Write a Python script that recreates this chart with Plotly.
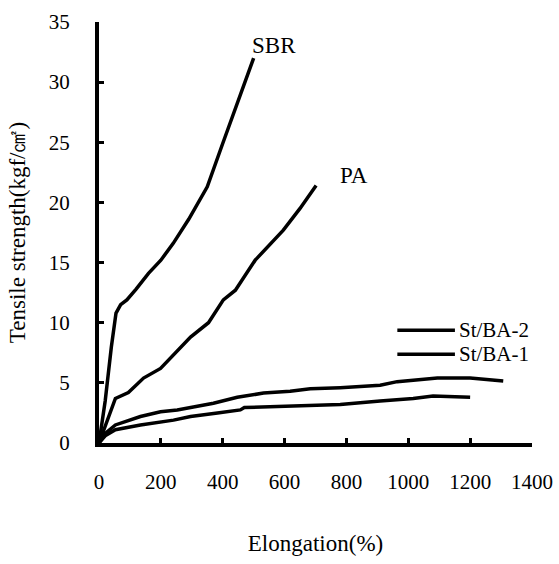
import plotly.graph_objects as go

# Data
sbr_x = [0, 20, 40, 55, 70, 90, 120, 160, 200, 240, 290, 350, 400, 430, 470, 500]
sbr_y = [0, 3.5, 8.0, 10.8, 11.5, 11.9, 12.8, 14.1, 15.2, 16.6, 18.6, 21.3, 24.9, 27.0, 29.8, 32.0]

pa_x = [0, 25, 53, 95, 144, 199, 254, 296, 354, 402, 441, 505, 596, 650, 702]
pa_y = [0, 1.8, 3.7, 4.2, 5.4, 6.2, 7.7, 8.8, 10.0, 11.9, 12.7, 15.2, 17.7, 19.5, 21.4]

st2_x = [0, 20, 53, 134, 199, 253, 305, 370, 447, 532, 618, 683, 780, 909, 964, 1094, 1200, 1307]
st2_y = [0, 0.8, 1.5, 2.2, 2.6, 2.75, 3.0, 3.3, 3.8, 4.15, 4.3, 4.5, 4.6, 4.8, 5.1, 5.4, 5.4, 5.15]

st1_x = [0, 20, 53, 134, 241, 296, 383, 457, 470, 544, 683, 780, 909, 1016, 1080, 1200]
st1_y = [0, 0.6, 1.1, 1.5, 1.9, 2.2, 2.5, 2.75, 2.95, 3.0, 3.15, 3.2, 3.5, 3.7, 3.9, 3.8]

x_ticks = [0, 200, 400, 600, 800, 1000, 1200, 1400]
y_ticks = [0, 5, 10, 15, 20, 25, 30, 35]

FONT = "Liberation Serif"
LW = 3.5

fig = go.Figure()
for xs, ys, name in [(sbr_x, sbr_y, "SBR"), (pa_x, pa_y, "PA"),
                     (st2_x, st2_y, "St/BA-2"), (st1_x, st1_y, "St/BA-1")]:
    fig.add_trace(go.Scatter(x=xs, y=ys, mode="lines", name=name,
                             line=dict(color="black", width=LW),
                             showlegend=False, hoverinfo="skip"))

# Curve labels at the curve ends
fig.add_annotation(x=sbr_x[-1], y=sbr_y[-1], text="SBR", showarrow=False,
                   xanchor="center", yanchor="middle", xshift=20, yshift=13,
                   font=dict(family=FONT, size=23, color="black"))
fig.add_annotation(x=pa_x[-1], y=pa_y[-1], text="PA", showarrow=False,
                   xanchor="center", yanchor="middle", xshift=38, yshift=10,
                   font=dict(family=FONT, size=23, color="black"))

# Legend (key lines with labels)
legend_items = [("St/BA-2", 0.268), ("St/BA-1", 0.211)]
for label, yp in legend_items:
    fig.add_shape(type="line", xref="paper", yref="paper",
                  x0=0.689, x1=0.822, y0=yp, y1=yp,
                  line=dict(color="black", width=LW))
    fig.add_annotation(xref="paper", yref="paper", x=0.826, y=yp, text=label,
                       showarrow=False, xanchor="left", yanchor="middle",
                       font=dict(family=FONT, size=21, color="black"))

axis_common = dict(showgrid=False, zeroline=False, showline=True,
                   linecolor="black", linewidth=4, ticks="inside",
                   ticklen=5, tickwidth=3, tickcolor="black", automargin=False,
                   tickfont=dict(family=FONT, size=21, color="black"))

fig.update_xaxes(range=[0, 1400], tickvals=x_ticks,
                 ticktext=[str(v) for v in x_ticks],
                 ticklabelstandoff=17,
                 title=dict(text="Elongation(%)", standoff=43,
                            font=dict(family=FONT, size=23, color="black")),
                 **axis_common)
fig.update_yaxes(range=[0, 35], tickvals=y_ticks,
                 ticktext=[str(v) for v in y_ticks],
                 ticklabelstandoff=21,
                 title=dict(text="Tensile strength(kgf/㎠)", standoff=18,
                            font=dict(family=FONT, size=23, color="black")),
                 **axis_common)

fig.update_layout(width=559, height=564,
                  margin=dict(l=98.5, r=27, t=22, b=121),
                  font=dict(family=FONT, color="black"),
                  plot_bgcolor="white", paper_bgcolor="white",
                  showlegend=False)

fig.write_html("out.html", config={"displayModeBar": False},
               post_script="document.body.style.margin='0';")
